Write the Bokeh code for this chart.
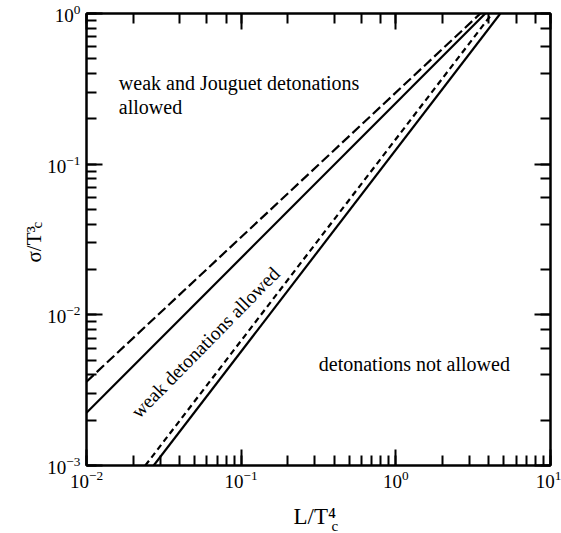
from bokeh.plotting import figure
from bokeh.models import LogAxis, Label, Range1d
from bokeh.embed import file_html
from bokeh.resources import INLINE

# ---- data (log-log, straight lines) ----
long_dash_x = [0.01, 3.52]
long_dash_y = [0.0036, 1.0]
solid_upper_x = [0.01, 3.79]
solid_upper_y = [0.00224, 1.0]
short_dash_x = [0.024, 4.2]
short_dash_y = [0.001, 1.0]
solid_lower_x = [0.0272, 4.74]
solid_lower_y = [0.001, 1.0]

FONT = "Liberation Serif"

p = figure(width=561, height=533, x_axis_type="log", y_axis_type="log",
           x_range=Range1d(1e-2, 1e1), y_range=Range1d(1e-3, 1e0),
           output_backend="svg", toolbar_location=None,
           min_border_left=86, min_border_right=11, min_border_top=13,
           min_border_bottom=68)
p.grid.visible = False
p.outline_line_color = "black"
p.outline_line_width = 2
p.background_fill_color = "white"
p.border_fill_color = "white"

p.add_layout(LogAxis(), "above")
p.add_layout(LogAxis(), "right")

for ax in p.axis:
    ax.major_tick_in = 16
    ax.major_tick_out = 0
    ax.minor_tick_in = 10
    ax.minor_tick_out = 0
    ax.major_tick_line_width = 2
    ax.minor_tick_line_width = 2
    ax.axis_line_width = 2
    ax.major_tick_line_color = "black"
    ax.minor_tick_line_color = "black"
    ax.axis_line_color = "black"
    ax.major_label_text_font = FONT
    ax.major_label_text_font_size = "19px"
    ax.major_label_text_color = "black"

for ax in p.above + p.right:
    ax.major_label_text_font_size = "1px"
    ax.major_label_text_alpha = 0
    ax.major_label_standoff = 0

p.xaxis[0].major_label_standoff = 6
p.yaxis[0].major_label_standoff = 6

p.line(long_dash_x, long_dash_y, line_color="black", line_width=2.2, line_dash="10 4")
p.line(solid_upper_x, solid_upper_y, line_color="black", line_width=2.2)
p.line(short_dash_x, short_dash_y, line_color="black", line_width=2.2, line_dash="6 4")
p.line(solid_lower_x, solid_lower_y, line_color="black", line_width=2.2)

def lab(x, y, text, size, place="center", **kw):
    p.add_layout(Label(x=x, y=y, text=text, text_font=FONT, text_font_size=size,
                       text_color="black", **kw), place)

lab(0.01618, 0.3446, "weak and Jouguet detonations", "20px",
    text_align="left", text_baseline="alphabetic")
lab(0.01618, 0.2399, "allowed", "20px", text_align="left", text_baseline="alphabetic")
lab(0.3177, 0.004682, "detonations not allowed", "20px",
    text_align="left", text_baseline="alphabetic")
lab(0.0588, 0.00655, "weak detonations allowed", "19.5px",
    text_align="center", text_baseline="middle", angle=45.5, angle_units="deg")

# axis labels: placed in side panels (not clipped), positioned in data units
# x axis label  L/T_c^4
lab(0.2179, 4.59e-4, "L/T⁴", "23px", place="below",
    text_align="left", text_baseline="alphabetic")
lab(0.3837, 3.95e-4, "c", "15px", place="below",
    text_align="left", text_baseline="alphabetic")

# y axis label  sigma/T_c^3 (rotated)
lab(0.004543, 0.02226, "σ/T³", "21px", place="left",
    text_align="left", text_baseline="alphabetic", angle=90, angle_units="deg")
lab(0.004772, 0.0374, "c", "15px", place="left",
    text_align="left", text_baseline="alphabetic", angle=90, angle_units="deg")

open("out.html", "w").write(file_html(p, INLINE))
